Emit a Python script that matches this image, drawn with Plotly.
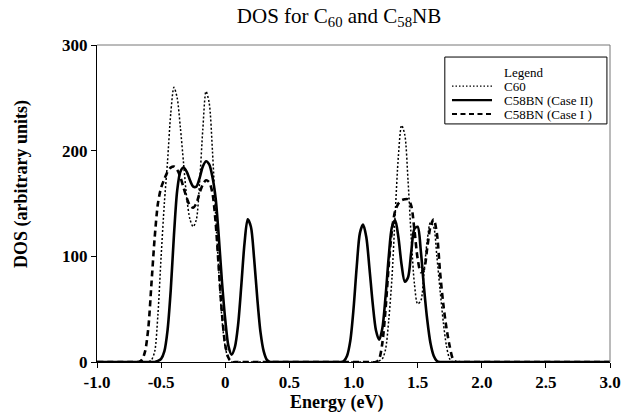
import plotly.graph_objects as go

# ---- data ----
c60_E = [-1.0, -0.65, -0.6, -0.575, -0.55, -0.525, -0.5, -0.475, -0.45, -0.425, -0.4, -0.375,
         -0.35, -0.325, -0.3, -0.275, -0.25, -0.225, -0.2, -0.175, -0.15, -0.125, -0.1,
         -0.075, -0.05, -0.025, 0.0, 0.025, 0.05, 0.1, 1.1, 1.175, 1.2, 1.225, 1.25, 1.275,
         1.3, 1.325, 1.35, 1.375, 1.4, 1.425, 1.45, 1.475, 1.5, 1.525, 1.55, 1.575, 1.6,
         1.625, 1.65, 1.675, 1.7, 1.725, 1.75, 1.775, 1.85, 3.0]
c60_D = [0, 0, 0, 2, 10, 45, 100, 150, 190, 235, 260, 250,
         222, 188, 155, 135, 128, 135, 170, 220, 256, 245, 200,
         140, 85, 40, 14, 3, 0, 0, 0, 0, 1, 3, 12, 40,
         80, 140, 195, 224, 215, 172, 118, 74, 55, 58, 85, 115, 132,
         128, 100, 68, 38, 15, 3, 0, 0, 0]

case2_E = [-1.0, -0.6, -0.55, -0.525, -0.5, -0.475, -0.45, -0.425, -0.4, -0.375, -0.35, -0.325,
           -0.3, -0.275, -0.25, -0.225, -0.2, -0.175, -0.15, -0.125, -0.1, -0.075, -0.05,
           -0.025, 0.0, 0.025, 0.05, 0.075, 0.1, 0.125, 0.15, 0.175, 0.2, 0.225, 0.25,
           0.275, 0.3, 0.325, 0.35, 0.4, 0.85, 0.9, 0.925, 0.95, 0.975, 1.0, 1.025, 1.05,
           1.075, 1.1, 1.125, 1.15, 1.175, 1.2, 1.225, 1.25, 1.275, 1.3, 1.325, 1.35,
           1.375, 1.4, 1.425, 1.45, 1.475, 1.5, 1.525, 1.55, 1.575, 1.6, 1.625, 1.65,
           1.675, 1.75, 3.0]
case2_D = [0, 0, 0, 1, 3, 10, 30, 68, 120, 162, 180, 184,
           180, 172, 166, 166, 174, 185, 190, 187, 175, 155, 118,
           75, 40, 15, 7, 14, 35, 72, 112, 135, 128, 98, 60,
           28, 10, 2, 0, 0, 0, 0, 1, 6, 20, 50, 90, 122,
           130, 118, 88, 55, 30, 21, 32, 62, 100, 128, 134, 118,
           92, 76, 80, 104, 126, 128, 105, 70, 40, 18, 6, 1,
           0, 0, 0]

case1_E = [-1.0, -0.72, -0.675, -0.65, -0.625, -0.6, -0.575, -0.55, -0.525, -0.5, -0.475,
           -0.45, -0.425, -0.4, -0.375, -0.35, -0.325, -0.3, -0.275, -0.25, -0.225, -0.2,
           -0.175, -0.15, -0.125, -0.1, -0.075, -0.05, -0.025, 0.0, 0.025, 0.05, 0.1,
           1.1, 1.175, 1.2, 1.225, 1.25, 1.275, 1.3, 1.325, 1.35, 1.375, 1.4, 1.425, 1.45,
           1.475, 1.5, 1.525, 1.55, 1.575, 1.6, 1.625, 1.65, 1.675, 1.7, 1.725, 1.75,
           1.775, 1.8, 1.85, 3.0]
case1_D = [0, 0, 0, 2, 10, 32, 75, 118, 150, 165, 173,
           180, 184, 185, 182, 175, 165, 155, 148, 146, 150, 160,
           168, 172, 170, 160, 132, 88, 45, 16, 4, 0, 0,
           0, 0, 3, 18, 50, 92, 125, 143, 150, 153, 154, 154, 148,
           125, 98, 85, 88, 108, 128, 135, 122, 85, 55, 32, 15,
           3, 0, 0, 0]

series_names = ["C60", "C58BN (Case II)", "C58BN (Case I )"]
x_ticks = [-1.0, -0.5, 0.0, 0.5, 1.0, 1.5, 2.0, 2.5, 3.0]
x_tick_labels = ["-1.0", "-0.5", "0", "0.5", "1.0", "1.5", "2.0", "2.5", "3.0"]
y_ticks = [0, 100, 200, 300]
y_tick_labels = ["0", "100", "200", "300"]

SERIF = "Liberation Serif, Times New Roman, serif"
styles = [dict(width=1.5, dash="2px,2px"), dict(width=2.6, dash="solid"), dict(width=2.6, dash="6px,4px")]
series = [(c60_E, c60_D), (case2_E, case2_D), (case1_E, case1_D)]

fig = go.Figure()
for (ex, dy), name, st in zip(series, series_names, styles):
    fig.add_trace(go.Scatter(x=ex, y=dy, mode="lines", name=name,
                             line=dict(color="black", width=st["width"], dash=st["dash"],
                                       shape="spline", smoothing=0.8)))

fig.update_layout(
    width=629, height=413,
    margin=dict(l=97, r=19, t=45, b=51, autoexpand=False),
    paper_bgcolor="white", plot_bgcolor="white",
    font=dict(family=SERIF, color="black"),
    title=dict(text="DOS for C<sub>60</sub> and C<sub>58</sub>NB", x=0.539, xanchor="center",
               y=0.963, yanchor="middle", font=dict(family=SERIF, size=21, color="black")),
    showlegend=False,
)
fig.update_xaxes(range=[-1.0, 3.0], tickvals=x_ticks, ticktext=x_tick_labels,
                 showgrid=False, zeroline=False, showline=True, linecolor="black", linewidth=1,
                 ticks="outside", ticklen=5, tickcolor="black",
                 tickfont=dict(family=SERIF, size=17, color="black", weight="bold"))
fig.update_yaxes(range=[0, 300], tickvals=y_ticks, ticktext=y_tick_labels,
                 showgrid=False, zeroline=False, showline=True, linecolor="black", linewidth=1,
                 ticks="outside", ticklen=5, tickcolor="black",
                 tickfont=dict(family=SERIF, size=17, color="black", weight="bold"))
# axis titles as annotations (positioned like the reference)
fig.add_annotation(xref="paper", yref="paper", x=0.467, y=-0.129, text="<b>Energy (eV)</b>",
                   showarrow=False, xanchor="center", yanchor="middle",
                   font=dict(family=SERIF, size=18, color="black"))
fig.add_annotation(xref="paper", yref="paper", x=-0.148, y=0.5615, text="<b>DOS (arbitrary units)</b>",
                   showarrow=False, xanchor="center", yanchor="middle", textangle=-90,
                   font=dict(family=SERIF, size=18, color="black"))
# grey top and right frame
fig.add_shape(type="line", xref="paper", yref="paper", x0=0, x1=1, y0=1, y1=1,
              line=dict(color="#777777", width=1))
fig.add_shape(type="line", xref="paper", yref="paper", x0=1, x1=1, y0=0, y1=1,
              line=dict(color="#777777", width=1))

# manual legend box (paper coordinates)
fig.add_shape(type="rect", xref="paper", yref="paper", x0=0.678, x1=0.994, y0=0.751, y1=0.962,
              line=dict(color="black", width=1), fillcolor="white", layer="above")
fig.add_annotation(xref="paper", yref="paper", x=0.791, y=0.914, text="Legend", showarrow=False,
                   xanchor="left", yanchor="middle", borderpad=0,
                   font=dict(family=SERIF, size=13, color="black"))
row_y = [0.870, 0.826, 0.782]
leg_dash = ["1.5px,2px", "solid", "5px,3.5px"]
leg_w = [1.3, 2.2, 2.0]
for ry, name, dsh, lw in zip(row_y, series_names, leg_dash, leg_w):
    fig.add_shape(type="line", xref="paper", yref="paper", x0=0.692, x1=0.770, y0=ry, y1=ry,
                  line=dict(color="black", width=lw, dash=dsh), layer="above")
    fig.add_annotation(xref="paper", yref="paper", x=0.791, y=ry, text=name, showarrow=False,
                       xanchor="left", yanchor="middle", borderpad=0,
                       font=dict(family=SERIF, size=13, color="black"))

fig.write_html("out.html", config={"displayModeBar": False},
               post_script="document.body.style.margin='0px';")
